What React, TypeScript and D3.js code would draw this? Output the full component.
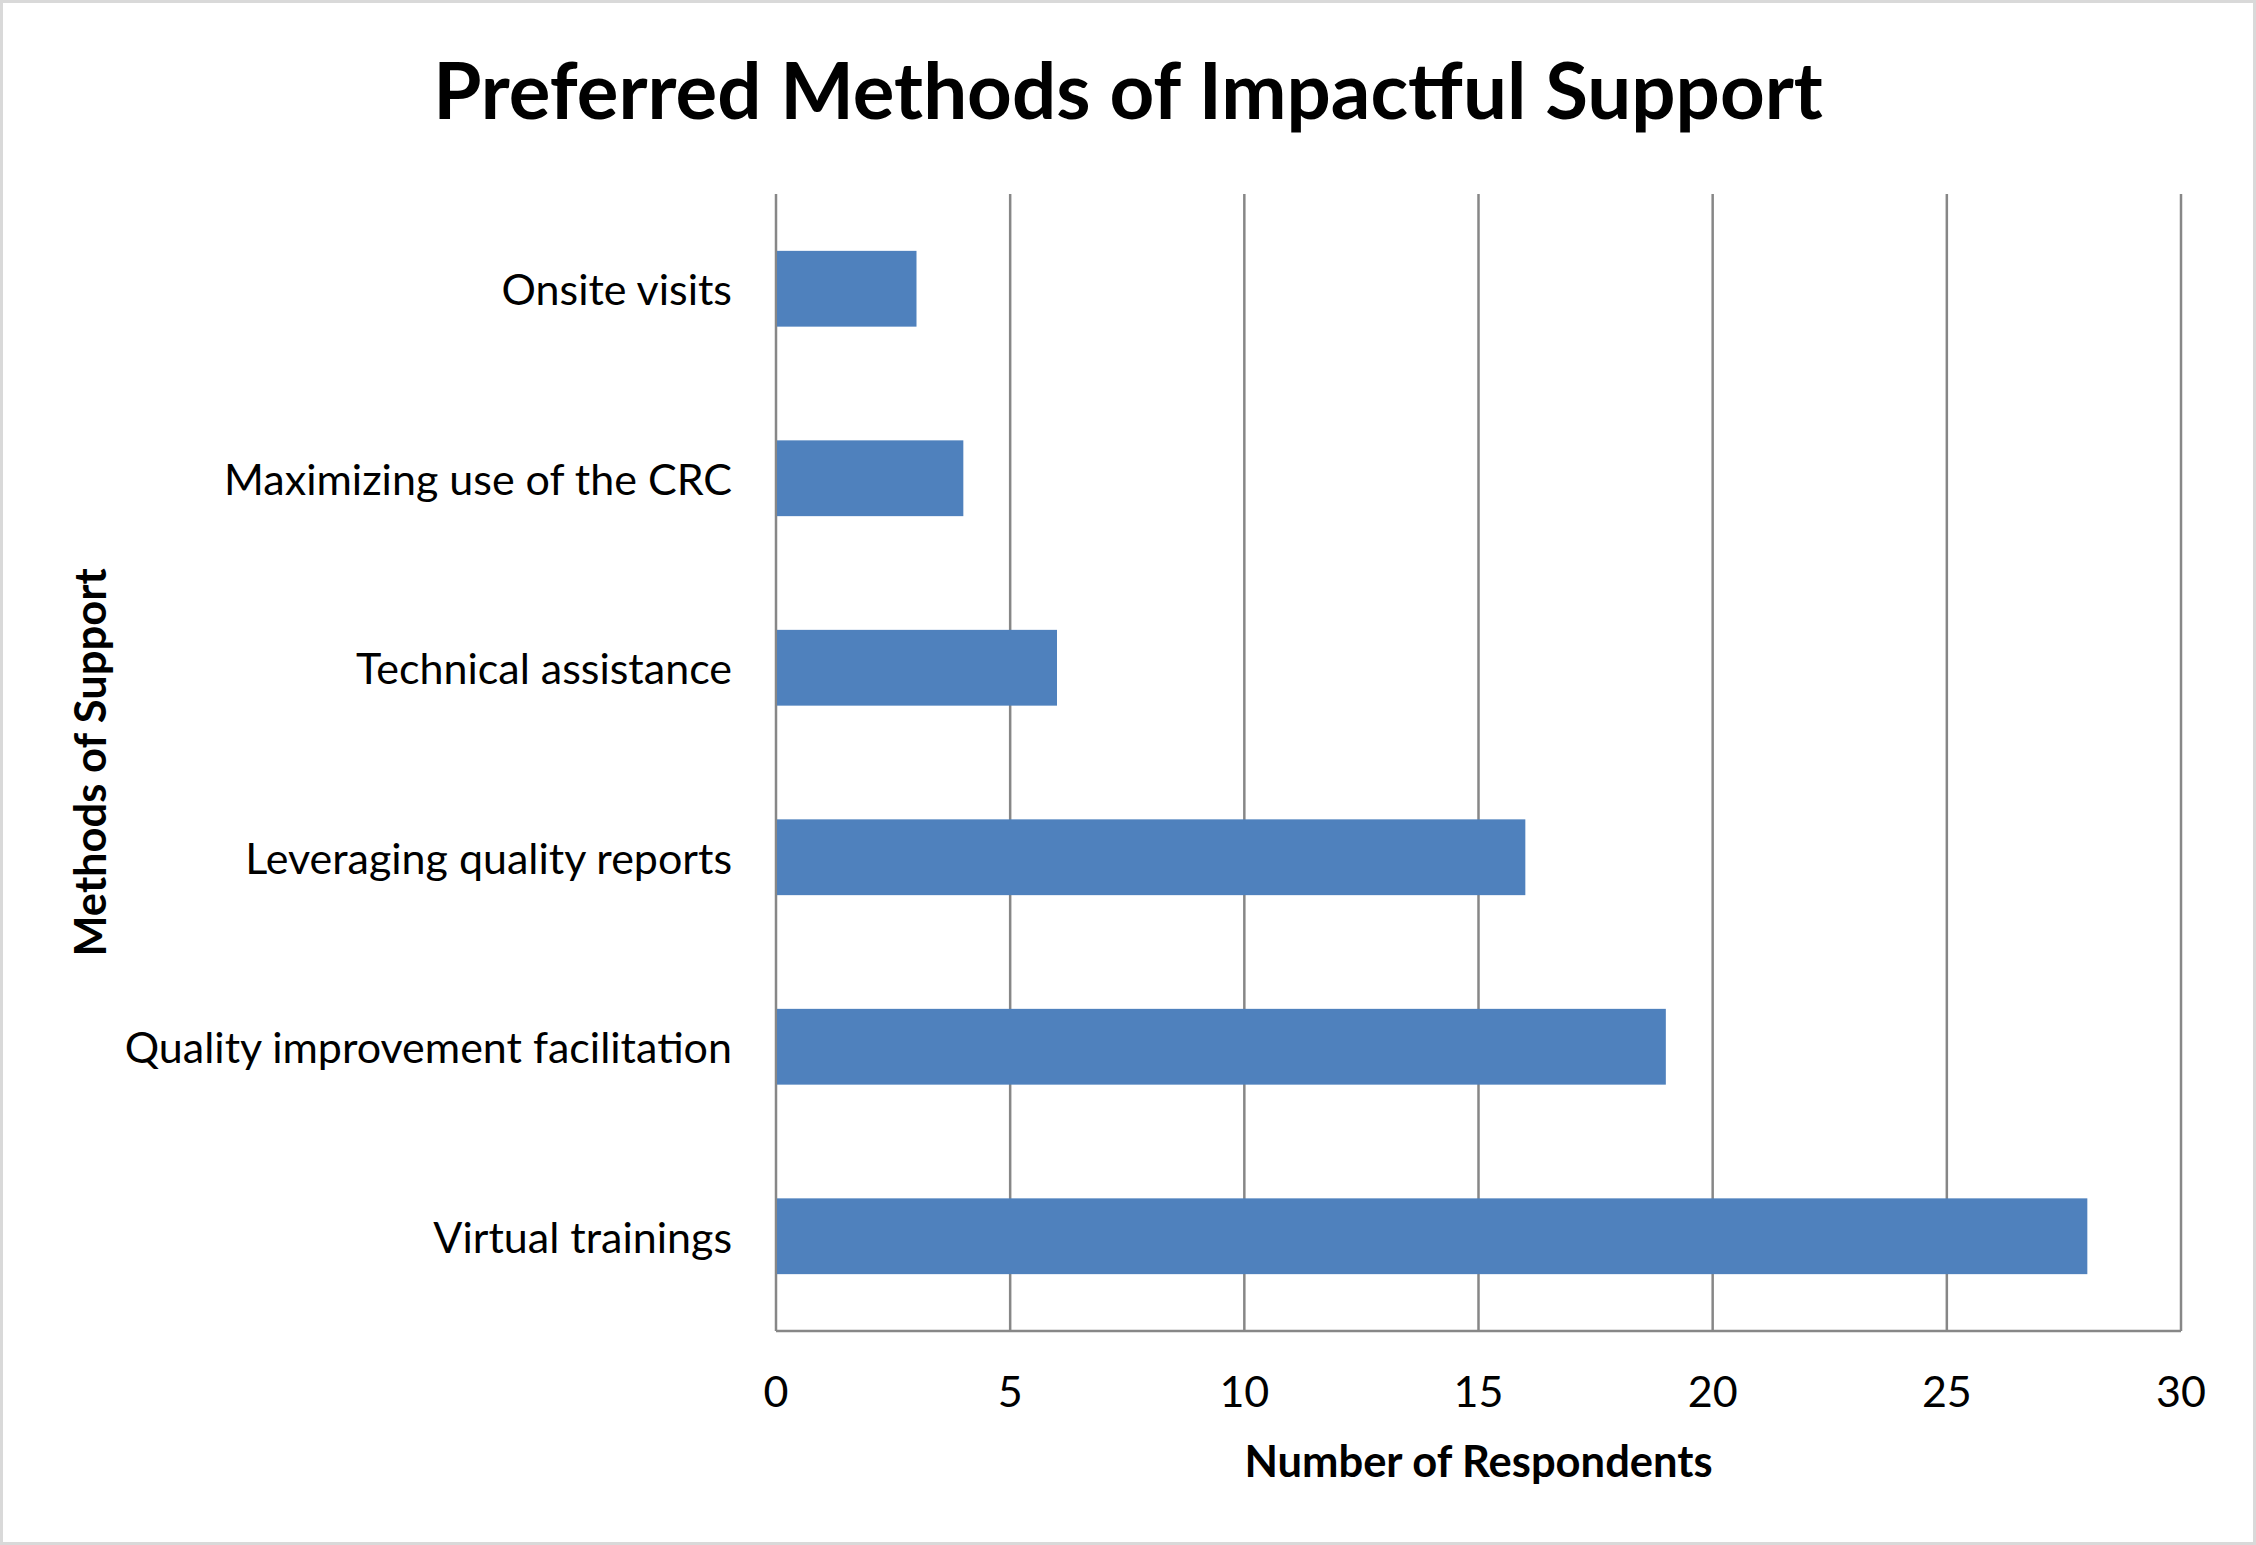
import React from "react";
import * as d3 from "d3";

const categories = [
  "Onsite visits",
  "Maximizing use of the CRC",
  "Technical assistance",
  "Leveraging quality reports",
  "Quality improvement facilitation",
  "Virtual trainings",
];
const values = [3, 4, 6, 16, 19, 28];
const xTicks = [0, 5, 10, 15, 20, 25, 30];
const title = "Preferred Methods of Impactful Support";
const xTitle = "Number of Respondents";
const yTitle = "Methods of Support";

const W = 2256;
const H = 1545;
const plot = { left: 776, right: 2181, top: 194, bottom: 1331 };
const FONT = "Lato, 'Open Sans', sans-serif";

export default function App() {
  const x = d3.scaleLinear().domain([0, 30]).range([plot.left, plot.right]);
  const y = d3
    .scaleBand<string>()
    .domain(categories)
    .range([plot.top, plot.bottom])
    .paddingInner(0.6)
    .paddingOuter(0.3);
  const gridColor = "#878787";
  return (
    <svg
      width={W}
      height={H}
      style={{ position: "absolute", left: 0, top: 0, display: "block" }}
      fontFamily={FONT}
    >
      <rect x={0} y={0} width={W} height={H} fill="#fff" />
      <rect x={1.5} y={1.5} width={W - 3} height={H - 3} fill="none" stroke="#d9d9d9" strokeWidth={3} />
      <text x={W / 2} y={89} textAnchor="middle" dominantBaseline="central" fontSize={78} fontWeight={700} fill="#000">
        {title}
      </text>
      {xTicks.map((t) => (
        <line key={"g" + t} x1={x(t)} x2={x(t)} y1={plot.top} y2={plot.bottom} stroke={gridColor} strokeWidth={2.5} />
      ))}
      <line x1={plot.left} x2={plot.right} y1={plot.bottom} y2={plot.bottom} stroke={gridColor} strokeWidth={2.5} />
      {categories.map((c, i) => (
        <rect
          key={c}
          x={x(0) + 1}
          y={y(c)!}
          width={x(values[i]) - x(0) - 1}
          height={y.bandwidth()}
          fill="#4f81bd"
        />
      ))}
      {categories.map((c) => (
        <text
          key={"l" + c}
          x={plot.left - 44}
          y={y(c)! + y.bandwidth() / 2}
          textAnchor="end"
          dominantBaseline="central"
          fontSize={43}
          fill="#000"
        >
          {c}
        </text>
      ))}
      {xTicks.map((t) => (
        <text key={"t" + t} x={x(t)} y={1390} textAnchor="middle" dominantBaseline="central" fontSize={43} fill="#000">
          {t}
        </text>
      ))}
      <text
        x={(plot.left + plot.right) / 2}
        y={1460}
        textAnchor="middle"
        dominantBaseline="central"
        fontSize={43.5}
        fontWeight={700}
        fill="#000"
      >
        {xTitle}
      </text>
      <text
        transform={`translate(89, ${(plot.top + plot.bottom) / 2}) rotate(-90)`}
        textAnchor="middle"
        dominantBaseline="central"
        fontSize={43.5}
        fontWeight={700}
        fill="#000"
      >
        {yTitle}
      </text>
    </svg>
  );
}
